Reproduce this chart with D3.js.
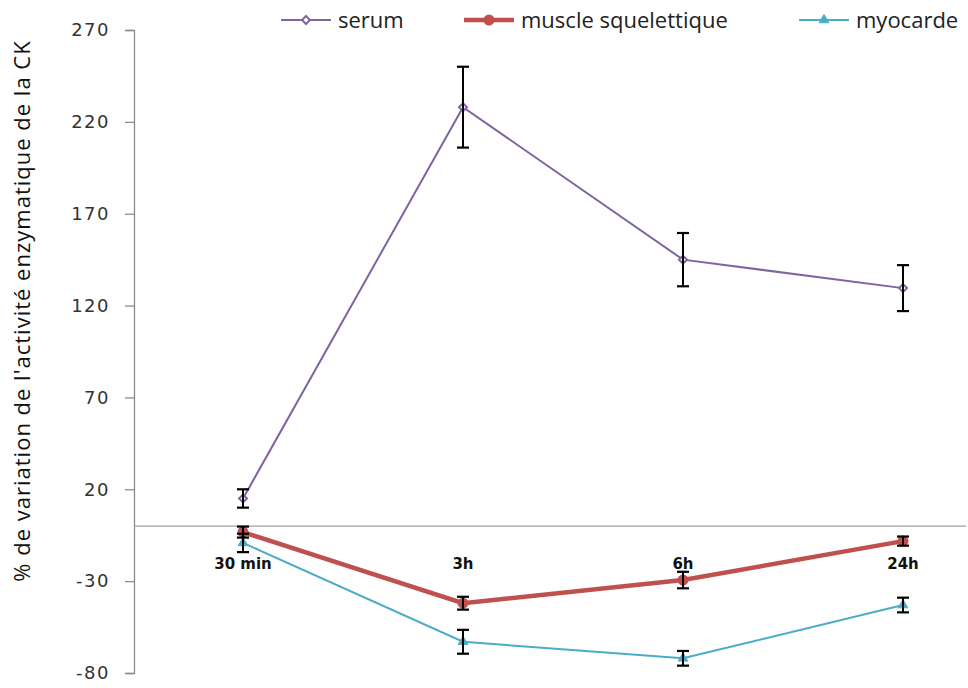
<!DOCTYPE html>
<html>
  <head>
    <meta charset="utf-8">
    <style>
    body {
      font-family: "Open Sans", sans-serif;
      margin: 0;
      background: #fff;
    }
    </style>
  </head>
  <body>
    <script src="https://cdn.jsdelivr.net/npm/d3@7"></script>
    <script>
    var width = 968, height = 688;

    // data
    var categories = ["30 min", "3h", "6h", "24h"];
    var yTicks = [-80, -30, 20, 70, 120, 170, 220, 270];

    var serum = [15, 228, 145, 129.5];
    var serumErr = [5, 22, 14.5, 12.5];
    var muscle = [-3.3, -42, -29.4, -8.2];
    var muscleErr = [3, 3.5, 4.5, 2.5];
    var myocarde = [-9.2, -63, -72, -43];
    var myocardeErr = [5, 6.5, 4, 4];

    var series = [
      {name: "serum", values: serum, err: serumErr, color: "#8064A2", width: 2, marker: "diamond"},
      {name: "muscle squelettique", values: muscle, err: muscleErr, color: "#C0504D", width: 4.5, marker: "circle"},
      {name: "myocarde", values: myocarde, err: myocardeErr, color: "#4BACC6", width: 2, marker: "triangle"}
    ];

    var left = 134, right = 966;

    var x = d3.scaleBand()
        .domain(categories)
        .range([133, 1013]);

    var y = d3.scaleLinear()
        .domain([-80, 270])
        .range([673, 30]);

    var svg = d3.select("body").append("svg")
        .attr("width", width)
        .attr("height", height);

    // y axis
    var yAxis = d3.axisLeft(y)
        .tickValues(yTicks)
        .tickFormat(function(d) { return String(d); })
        .tickSize(9)
        .tickPadding(15);

    var ga = svg.append("g")
        .attr("transform", "translate(" + left + ",0)")
        .call(yAxis);
    ga.select(".domain").attr("stroke", "#8c8c8c").attr("stroke-width", 1.3);
    ga.selectAll(".tick line").attr("stroke", "#8c8c8c").attr("stroke-width", 1.3);
    ga.selectAll(".tick text")
        .style("font-family", "'DejaVu Sans', sans-serif")
        .style("font-size", "18px")
        .style("letter-spacing", "1.5px")
        .attr("fill", "#333");

    // zero line
    svg.append("line")
        .attr("x1", left).attr("x2", right)
        .attr("y1", y(0)).attr("y2", y(0))
        .attr("stroke", "#a0a0a0")
        .attr("stroke-width", 1.3);

    // y title
    svg.append("text")
        .attr("transform", "translate(30," + 311 + ") rotate(-90)")
        .attr("text-anchor", "middle")
        .style("font-family", "'Open Sans', sans-serif")
        .style("font-size", "22px")
        .style("letter-spacing", "1px")
        .attr("fill", "#111")
        .text("% de variation de l'activité enzymatique de la CK");

    // category labels
    svg.selectAll(".cat-label")
        .data(categories)
        .enter().append("text")
        .attr("class", "cat-label")
        .attr("x", function(d) { return x(d) + x.bandwidth() / 2; })
        .attr("y", y(0) + 43)
        .attr("text-anchor", "middle")
        .style("font-family", "'DejaVu Sans', sans-serif")
        .style("font-weight", "bold")
        .style("font-size", "15px")
        .attr("fill", "#111")
        .text(function(d) { return d; });

    var cx = function(d, i) { return x(categories[i]) + x.bandwidth() / 2; };

    var line = d3.line()
        .x(function(d, i) { return cx(d, i); })
        .y(function(d) { return y(d); });

    function drawMarker(g, type, color, px, py) {
      if (type == "diamond") {
        g.append("path")
            .attr("d", d3.symbol().type(d3.symbolDiamond2).size(40)())
            .attr("transform", "translate(" + px + "," + py + ")")
            .attr("fill", "#fff")
            .attr("stroke", color)
            .attr("stroke-width", 2);
      } else if (type == "circle") {
        g.append("circle")
            .attr("cx", px).attr("cy", py).attr("r", 5.5)
            .attr("fill", color);
      } else {
        g.append("path")
            .attr("d", d3.symbol().type(d3.symbolTriangle).size(40)())
            .attr("transform", "translate(" + px + "," + py + ")")
            .attr("fill", color)
            .attr("stroke", color)
            .attr("stroke-width", 1);
      }
    }

    series.forEach(function(s) {
      var g = svg.append("g");
      g.append("path")
          .datum(s.values)
          .attr("d", line)
          .attr("fill", "none")
          .attr("stroke", s.color)
          .attr("stroke-width", s.width);
      s.values.forEach(function(v, i) {
        drawMarker(g, s.marker, s.color, cx(v, i), y(v));
      });
    });

    // error bars on top
    series.forEach(function(s) {
      var g = svg.append("g");
      s.values.forEach(function(v, i) {
        var px = cx(v, i), top = y(v + s.err[i]), bot = y(v - s.err[i]);
        g.append("line")
            .attr("x1", px).attr("x2", px).attr("y1", top).attr("y2", bot)
            .attr("stroke", "#000").attr("stroke-width", 2);
        [top, bot].forEach(function(yy) {
          g.append("line")
              .attr("x1", px - 6).attr("x2", px + 6).attr("y1", yy).attr("y2", yy)
              .attr("stroke", "#000").attr("stroke-width", 2.2);
        });
      });
    });

    // legend
    var legendX = [281, 464, 799];
    var legend = svg.append("g");
    series.forEach(function(s, i) {
      var lx = legendX[i], ly = 20;
      legend.append("line")
          .attr("x1", lx).attr("x2", lx + 50)
          .attr("y1", ly).attr("y2", ly)
          .attr("stroke", s.color)
          .attr("stroke-width", s.width);
      drawMarker(legend, s.marker, s.color, lx + 25, ly);
      legend.append("text")
          .attr("x", lx + 57)
          .attr("y", ly + 7.5)
          .style("font-family", "'Open Sans', sans-serif")
          .style("font-size", "22px")
          .attr("fill", "#222")
          .text(s.name);
    });
    </script>
  </body>
</html>
